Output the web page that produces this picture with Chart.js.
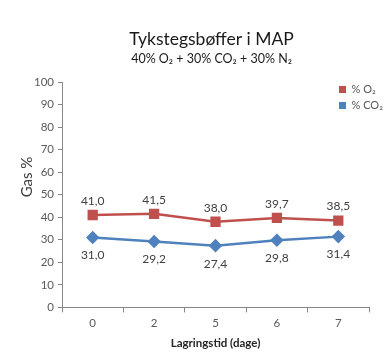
<!DOCTYPE html>
<html><head><meta charset="utf-8">
<script src="https://cdn.jsdelivr.net/npm/chart.js@4/dist/chart.umd.min.js"></script>
<style>html,body{margin:0;padding:0;background:#fff}#w{width:390px;height:361px}</style>
</head><body><div id="w"><canvas id="c"></canvas></div>
<script>
const categories = ['0', '2', '5', '6', '7'];
const o2Values = [41.0, 41.5, 38.0, 39.7, 38.5];
const co2Values = [31.0, 29.2, 27.4, 29.8, 31.4];
const seriesNames = ['% O\u2082', '% CO\u2082'];
const titleText = 'Tykstegsbøffer i MAP';
const subtitleText = '40% O\u2082 + 30% CO\u2082 + 30% N\u2082';
const xTitle = 'Lagringstid (dage)';
const yTitle = 'Gas %';

const FONT = 'Lato, "Open Sans", sans-serif';
const RED = '#C0504D', BLUE = '#4F81BD';

const labelPlugin = {
  id: 'pointLabels',
  afterDatasetsDraw(chart) {
    const ctx = chart.ctx;
    ctx.save();
    ctx.font = '12px ' + FONT;
    ctx.fillStyle = '#404040';
    ctx.textAlign = 'center';
    ctx.textBaseline = 'middle';
    chart.data.datasets.forEach((ds, i) => {
      const meta = chart.getDatasetMeta(i);
      meta.data.forEach((pt, j) => {
        const txt = ds.data[j].toFixed(1).replace('.', ',');
        const dy = i === 0 ? -14 : 18;
        ctx.fillText(txt, pt.x, pt.y + dy);
      });
    });
    ctx.restore();
  }
};
const yTitlePlugin = {
  id: 'yTitleText',
  afterDraw(chart) {
    const ctx = chart.ctx;
    ctx.save();
    ctx.translate(27, 177);
    ctx.rotate(-Math.PI / 2);
    ctx.font = '15px ' + FONT;
    ctx.fillStyle = '#404040';
    ctx.textAlign = 'center';
    ctx.textBaseline = 'middle';
    ctx.fillText(yTitle, 0, 0);
    ctx.restore();
  }
};
const layoutTweak = {
  id: 'layoutTweak',
  afterLayout(chart) {
    const lg = chart.legend;
    const w = lg.right - lg.left;
    lg.left = 334;
    lg.right = lg.left + w;
    lg.top = 79;
    lg.bottom = lg.top + 40;
    chart.boxes.forEach(b => {
      if (b.options && (b.options.text === titleText || b.options.text === subtitleText)) {
        b.left = 62; b.right = 361;
      }
    });
  }
};

new Chart(document.getElementById('c'), {
  type: 'line',
  data: {
    labels: categories,
    datasets: [
      { label: seriesNames[0], data: o2Values, borderColor: RED, backgroundColor: RED,
        borderWidth: 2.5, pointStyle: 'rect', pointRadius: 5.5, pointHoverRadius: 5.5, tension: 0 },
      { label: seriesNames[1], data: co2Values, borderColor: BLUE, backgroundColor: BLUE,
        borderWidth: 2.5, pointStyle: 'rectRot', pointRadius: 5, pointHoverRadius: 5, tension: 0 }
    ]
  },
  options: {
    responsive: true, maintainAspectRatio: false, animation: false,
    layout: { padding: { left: 8, right: 21, top: 0, bottom: 11 } },
    plugins: {
      title: { display: true, text: titleText, color: '#1a1a1a',
        font: { family: FONT, size: 17.5, weight: 'normal' }, padding: { top: 29, bottom: 0 } },
      subtitle: { display: true, text: subtitleText, color: '#1a1a1a',
        font: { family: FONT, size: 12.5, weight: 'normal' }, padding: { top: 1, bottom: 16 } },
      legend: {
        position: 'chartArea', align: 'start',
        labels: {
          boxWidth: 7, boxHeight: 7, padding: 5, color: '#595959',
          font: { family: FONT, size: 11 },
          generateLabels(chart) {
            return chart.data.datasets.map((ds, i) => ({
              text: ds.label, fillStyle: ds.borderColor, strokeStyle: ds.borderColor,
              lineWidth: 0, hidden: false, datasetIndex: i, fontColor: '#595959'
            }));
          }
        }
      },
      tooltip: { enabled: false }
    },
    scales: {
      x: {
        offset: true,
        grid: { drawOnChartArea: false, drawTicks: true, tickLength: 5, offset: true, color: '#868686' },
        border: { color: '#868686', width: 1 },
        ticks: { color: '#595959', font: { family: FONT, size: 11.5 }, padding: 4 },
        title: { display: true, text: xTitle, color: '#262626',
          font: { family: FONT, size: 11.5, weight: 'bold' }, padding: { top: 2, bottom: 0 } }
      },
      y: {
        min: 0, max: 100,
        grid: { drawOnChartArea: false, drawTicks: true, tickLength: 4, color: '#868686' },
        border: { color: '#868686', width: 1 },
        ticks: { stepSize: 10, color: '#595959', font: { family: FONT, size: 11.5 }, padding: 4 },
        afterFit(s) { s.width = 54; }
      }
    }
  },
  plugins: [labelPlugin, yTitlePlugin, layoutTweak]
});
</script></body></html>
